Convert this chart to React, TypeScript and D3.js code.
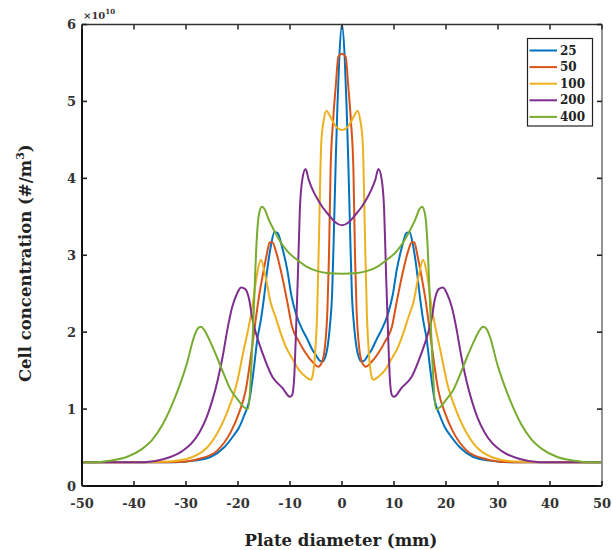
import React from "react";
import * as d3 from "d3";

const xTicks = [-50, -40, -30, -20, -10, 0, 10, 20, 30, 40, 50];
const yTicks = [0, 1, 2, 3, 4, 5, 6];
const seriesNames = ["25", "50", "100", "200", "400"];
const seriesColors = ["#0072BD", "#D95319", "#EDB120", "#7E2F8E", "#77AC30"];

const x25 = [-50, -42, -36, -32, -28.5, -25.2, -22.7, -20.8, -19.8, -18.8, -17.8, -17.0, -16.3, -15.6, -15.0, -14.2, -13.6, -13.0, -12.4, -11.5, -10.5, -9.8, -8.9, -7.6, -6.6, -5.7, -5.0, -4.3, -3.7, -3.2, -2.8, -2.3, -1.9, -1.6, -1.2, -0.9, -0.5, 0, 0.5, 0.9, 1.2, 1.6, 1.9, 2.3, 2.8, 3.2, 3.7, 4.3, 5.0, 5.7, 6.6, 7.6, 8.9, 9.8, 10.5, 11.5, 12.4, 13.0, 13.6, 14.2, 15.0, 15.6, 16.3, 17.0, 17.8, 18.8, 19.8, 20.8, 22.7, 25.2, 28.5, 32, 36, 42, 50];
const y25 = [0.31, 0.31, 0.31, 0.31, 0.33, 0.38, 0.5, 0.66, 0.76, 0.92, 1.12, 1.5, 1.9, 2.16, 2.45, 2.9, 3.15, 3.3, 3.29, 3.1, 2.8, 2.5, 2.25, 2.03, 1.9, 1.77, 1.7, 1.63, 1.62, 1.68, 1.8, 2.1, 2.5, 3.2, 4.24, 4.9, 5.6, 6.0, 5.6, 4.9, 4.24, 3.2, 2.5, 2.1, 1.8, 1.68, 1.62, 1.63, 1.7, 1.77, 1.9, 2.03, 2.25, 2.5, 2.8, 3.1, 3.29, 3.3, 3.15, 2.9, 2.45, 2.16, 1.9, 1.5, 1.12, 0.92, 0.76, 0.66, 0.5, 0.38, 0.33, 0.31, 0.31, 0.31, 0.31];

const x50 = [-50, -40, -34, -30, -27.1, -24, -21.4, -19.8, -18.5, -17.5, -16.6, -16.0, -15.3, -14.5, -13.9, -13.4, -12.7, -11.5, -10.4, -9.6, -8.3, -7.0, -5.5, -4.6, -3.9, -3.3, -2.8, -2.5, -2.2, -1.7, -1.2, -0.7, 0, 0.7, 1.2, 1.7, 2.2, 2.5, 2.8, 3.3, 3.9, 4.6, 5.5, 7.0, 8.3, 9.6, 10.4, 11.5, 12.7, 13.4, 13.9, 14.5, 15.3, 16.0, 16.6, 17.5, 18.5, 19.8, 21.4, 24, 27.1, 30, 34, 40, 50];
const y50 = [0.31, 0.31, 0.31, 0.32, 0.36, 0.46, 0.7, 0.95, 1.25, 1.7, 2.16, 2.45, 2.72, 3.0, 3.17, 3.17, 3.05, 2.72, 2.35, 2.07, 1.88, 1.73, 1.6, 1.55, 1.6, 1.8, 2.3, 3.0, 4.1, 4.76, 5.2, 5.58, 5.62, 5.58, 5.2, 4.76, 4.1, 3.0, 2.3, 1.8, 1.6, 1.55, 1.6, 1.73, 1.88, 2.07, 2.35, 2.72, 3.05, 3.17, 3.17, 3.0, 2.72, 2.45, 2.16, 1.7, 1.25, 0.95, 0.7, 0.46, 0.36, 0.32, 0.31, 0.31, 0.31];

const x100 = [-50, -40, -33, -29, -25.3, -22.7, -21.4, -20.4, -18.8, -18.0, -17.2, -16.3, -15.6, -14.8, -13.7, -12.8, -12.0, -10.8, -9.5, -8.3, -7.0, -6.0, -5.6, -5.2, -4.8, -4.4, -4.0, -3.5, -3.0, -2.4, -1.6, -0.8, 0, 0.8, 1.6, 2.4, 3.0, 3.5, 4.0, 4.4, 4.8, 5.2, 5.6, 6.0, 7.0, 8.3, 9.5, 10.8, 12.0, 12.8, 13.7, 14.8, 15.6, 16.3, 17.2, 18.0, 18.8, 20.4, 21.4, 22.7, 25.3, 29, 33, 40, 50];
const y100 = [0.31, 0.31, 0.32, 0.37, 0.55, 0.86, 1.08, 1.29, 1.8, 2.05, 2.35, 2.77, 2.94, 2.75, 2.38, 2.2, 2.03, 1.81, 1.65, 1.51, 1.42, 1.38, 1.45, 1.7, 2.2, 3.3, 4.45, 4.76, 4.88, 4.82, 4.72, 4.65, 4.63, 4.65, 4.72, 4.82, 4.88, 4.76, 4.45, 3.3, 2.2, 1.7, 1.45, 1.38, 1.42, 1.51, 1.65, 1.81, 2.03, 2.2, 2.38, 2.75, 2.94, 2.77, 2.35, 2.05, 1.8, 1.29, 1.08, 0.86, 0.55, 0.37, 0.32, 0.31, 0.31];

const x200 = [-50, -44, -38, -34.2, -30.8, -29, -27.4, -26.0, -25.0, -24.0, -22.9, -22.0, -21.1, -20.2, -19.4, -18.6, -17.9, -17.2, -16.3, -15.3, -13.4, -11.5, -10.0, -9.6, -9.2, -8.9, -8.5, -8.1, -7.6, -7.0, -6.4, -5.7, -4.8, -3.8, -2.5, -1.3, 0, 1.3, 2.5, 3.8, 4.8, 5.7, 6.4, 7.0, 7.6, 8.1, 8.5, 8.9, 9.2, 9.6, 10.0, 11.5, 13.4, 15.3, 16.3, 17.2, 17.9, 18.6, 19.4, 20.2, 21.1, 22.0, 22.9, 24.0, 25.0, 26.0, 27.4, 29, 30.8, 34.2, 38, 44, 50];
const y200 = [0.31, 0.31, 0.31, 0.35, 0.45, 0.55, 0.7, 0.9, 1.1, 1.35, 1.7, 2.05, 2.33, 2.5, 2.58, 2.56, 2.44, 2.16, 1.93, 1.73, 1.42, 1.28, 1.16, 1.18, 1.4, 1.9, 2.7, 3.6, 4.0, 4.12, 3.98, 3.86, 3.74, 3.63, 3.52, 3.43, 3.39, 3.43, 3.52, 3.63, 3.74, 3.86, 3.98, 4.12, 4.0, 3.6, 2.7, 1.9, 1.4, 1.18, 1.16, 1.28, 1.42, 1.73, 1.93, 2.16, 2.44, 2.56, 2.58, 2.5, 2.33, 2.05, 1.7, 1.35, 1.1, 0.9, 0.7, 0.55, 0.45, 0.35, 0.31, 0.31, 0.31];

const x400 = [-50, -47, -44.5, -41.3, -38.5, -36.5, -34.5, -32.3, -31.0, -29.8, -28.5, -27.7, -27.1, -26.5, -25.5, -24.2, -22.7, -21.4, -20.0, -18.8, -18.1, -17.4, -16.9, -16.4, -16.0, -15.4, -15.0, -14.0, -12.8, -11.5, -10.2, -9, -7, -5, -3, 0, 3, 5, 7, 9, 10.2, 11.5, 12.8, 14.0, 15.0, 15.4, 16.0, 16.4, 16.9, 17.4, 18.1, 18.8, 20.0, 21.4, 22.7, 24.2, 25.5, 26.5, 27.1, 27.7, 28.5, 29.8, 31.0, 32.3, 34.5, 36.5, 38.5, 41.3, 44.5, 47, 50];
const y400 = [0.31, 0.31, 0.33, 0.38, 0.48, 0.6, 0.8, 1.12, 1.35, 1.6, 1.93, 2.05, 2.07, 2.03, 1.9, 1.7, 1.45, 1.25, 1.12, 1.02, 1.0, 1.6, 2.4, 3.2, 3.52, 3.63, 3.61, 3.45, 3.29, 3.14, 3.03, 2.96, 2.86, 2.8, 2.77, 2.76, 2.77, 2.8, 2.86, 2.96, 3.03, 3.14, 3.29, 3.45, 3.61, 3.63, 3.52, 3.2, 2.4, 1.6, 1.0, 1.02, 1.12, 1.25, 1.45, 1.7, 1.9, 2.03, 2.07, 2.05, 1.93, 1.6, 1.35, 1.12, 0.8, 0.6, 0.48, 0.38, 0.33, 0.31, 0.31];

const seriesX = [x25, x50, x100, x200, x400];
const seriesY = [y25, y50, y100, y200, y400];

const W = 612;
const H = 550;
const L = 82, R = 602, T = 24.5, B = 486;
const FONT = "'DejaVu Serif', 'Liberation Serif', serif";

export default function App() {
  const x = d3.scaleLinear().domain([-50, 50]).range([L, R]);
  const y = d3.scaleLinear().domain([0, 6]).range([B, T]);
  const line = d3
    .line<[number, number]>()
    .x((d) => x(d[0]))
    .y((d) => y(d[1]))
    .curve(d3.curveMonotoneX);

  const legendX = 527.5, legendY = 38.5, legendW = 65, legendH = 87.5;

  return (
    <svg width={W} height={H} style={{ position: "absolute", left: 0, top: 0, background: "#fff" }}>
      <rect x={0} y={0} width={W} height={H} fill="#fff" />
      <g>
        {seriesX.map((xs, i) => {
          const pts: [number, number][] = xs.map((v, j) => [v, seriesY[i][j]]);
          return (
            <path key={i} d={line(pts) || ""} fill="none" stroke={seriesColors[i]} strokeWidth={2} strokeLinejoin="round" />
          );
        })}
      </g>
      {/* axes box */}
      <line x1={L} y1={T} x2={R} y2={T} stroke="#333" strokeWidth={1.6} />
      <line x1={R} y1={T} x2={R} y2={B} stroke="#888" strokeWidth={1.8} />
      <line x1={L} y1={B} x2={R} y2={B} stroke="#111" strokeWidth={2} />
      <line x1={L} y1={T} x2={L} y2={B} stroke="#111" strokeWidth={2} />
      {xTicks.map((t) => (
        <g key={"xt" + t}>
          <line x1={x(t)} x2={x(t)} y1={B} y2={B - 5} stroke="#222" strokeWidth={1.6} />
          <line x1={x(t)} x2={x(t)} y1={T} y2={T + 5} stroke="#333" strokeWidth={1.6} />
          <text x={x(t)} y={508} textAnchor="middle" fontFamily={FONT} fontWeight="bold" fontSize={13} fill="#333">
            {t}
          </text>
        </g>
      ))}
      {yTicks.map((t) => (
        <g key={"yt" + t}>
          <line x1={L} x2={L + 5} y1={y(t)} y2={y(t)} stroke="#222" strokeWidth={1.6} />
          <line x1={R} x2={R - 5} y1={y(t)} y2={y(t)} stroke="#222" strokeWidth={1.6} />
          <text x={76} y={y(t) + 4.5} textAnchor="end" fontFamily={FONT} fontWeight="bold" fontSize={13} fill="#333">
            {t}
          </text>
        </g>
      ))}
      <text x={83} y={19} fontFamily={FONT} fontWeight="bold" fontSize={10} fill="#333">
        ×10
        <tspan fontSize={7} dy={-5}>10</tspan>
      </text>
      <text x={341} y={546} textAnchor="middle" fontFamily={FONT} fontWeight="bold" fontSize={16.5} fill="#222">
        Plate diameter (mm)
      </text>
      <text
        transform={`translate(31,${(T + B) / 2 + 8}) rotate(-90)`}
        textAnchor="middle"
        fontFamily={FONT}
        fontWeight="bold"
        fontSize={16.5}
        fill="#222"
      >
        Cell concentration (#/m
        <tspan fontSize={11} dy={-7}>3</tspan>
        <tspan dy={7}>)</tspan>
      </text>
      {/* legend */}
      <rect x={legendX} y={legendY} width={legendW} height={legendH} fill="#fff" stroke="#222" strokeWidth={1.2} />
      {seriesNames.map((n, i) => {
        const ly = 50.5 + i * 16.6;
        return (
          <g key={"lg" + n}>
            <line x1={529.5} x2={557} y1={ly} y2={ly} stroke={seriesColors[i]} strokeWidth={2} />
            <text x={560} y={ly + 4} fontFamily={FONT} fontWeight="bold" fontSize={12} fill="#222">
              {n}
            </text>
          </g>
        );
      })}
    </svg>
  );
}
